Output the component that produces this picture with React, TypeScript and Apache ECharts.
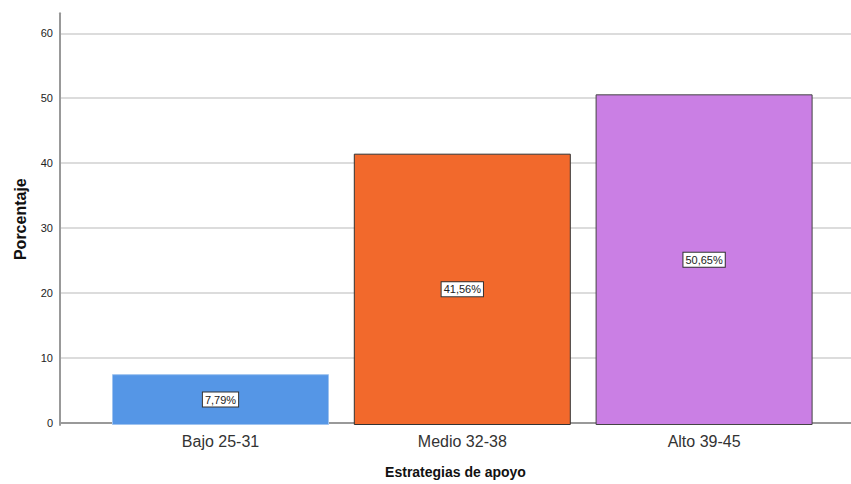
import React, { useEffect, useRef } from "react";
import * as echarts from "echarts";

const categories = ["Bajo 25-31", "Medio 32-38", "Alto 39-45"];
const percentages = [7.79, 41.56, 50.65];
const barColors = ["#5596e6", "#f2692c", "#ca7fe4"];
const barBorders = ["#9fc3ef", "#333333", "#444444"];
const yTicks = [0, 10, 20, 30, 40, 50, 60];

export default function App() {
  const ref = useRef<HTMLDivElement>(null);
  useEffect(() => {
    document.body.style.margin = "0";
    if (!ref.current) return;
    const chart = echarts.init(ref.current, undefined, { renderer: "svg" });
    const font = "'Liberation Sans', Arial, sans-serif";
    const bottom = 59;
    chart.setOption({
      animation: false,
      backgroundColor: "#ffffff",
      textStyle: { fontFamily: font },
      grid: [
        { left: 60, right: 0, top: 33.3, bottom: bottom },
        { left: 99.6, right: 26, top: 33.3, bottom: bottom },
        { left: 60, right: 0, top: 13.3, bottom: bottom },
      ],
      xAxis: [
        {
          gridIndex: 0,
          type: "category",
          data: categories,
          axisLine: { show: true, lineStyle: { color: "#999999", width: 2 } },
          axisTick: { show: false },
          axisLabel: { show: false },
          name: "Estrategias de apoyo",
          nameLocation: "middle",
          nameGap: 42,
          nameTextStyle: { fontSize: 14, fontWeight: "bold", color: "#111111", fontFamily: font },
        },
        {
          gridIndex: 1,
          type: "category",
          data: categories,
          axisLine: { show: false },
          axisTick: { show: false },
          axisLabel: { fontSize: 16, color: "#333333", margin: 8, fontFamily: font },
        },
        {
          gridIndex: 2,
          type: "category",
          data: categories,
          show: false,
        },
      ],
      yAxis: [
        {
          gridIndex: 0,
          type: "value",
          min: yTicks[0],
          max: yTicks[yTicks.length - 1],
          interval: 10,
          axisLine: { show: false },
          axisTick: { show: false },
          axisLabel: { fontSize: 11, color: "#222222", margin: 7, fontFamily: font },
          splitLine: { show: true, lineStyle: { color: "#d0d0d0", width: 1.5 } },
        },
        {
          gridIndex: 1,
          type: "value",
          min: yTicks[0],
          max: yTicks[yTicks.length - 1],
          show: false,
          splitLine: { show: false },
        },
        {
          gridIndex: 2,
          type: "value",
          min: 0,
          max: 63,
          axisLine: { show: true, lineStyle: { color: "#999999", width: 2 } },
          axisTick: { show: false },
          axisLabel: { show: false },
          splitLine: { show: false },
          name: "Porcentaje",
          nameLocation: "middle",
          nameGap: 32,
          nameTextStyle: { fontSize: 16, fontWeight: "bold", color: "#111111", fontFamily: font },
        },
      ],
      series: [
        {
          type: "bar",
          xAxisIndex: 1,
          yAxisIndex: 1,
          barWidth: 217,
          data: percentages.map((v, i) => ({
            value: v,
            itemStyle: { color: barColors[i], borderColor: barBorders[i], borderWidth: 1 },
          })),
          label: {
            show: true,
            position: "inside",
            formatter: (p: any) => p.value.toFixed(2).replace(".", ",") + "%",
            fontSize: 11,
            color: "#222222",
            fontFamily: font,
            backgroundColor: "#ffffff",
            borderColor: "#333333",
            borderWidth: 1,
            padding: [2, 2, 1, 2],
          },
        },
      ],
    });
    return () => chart.dispose();
  }, []);
  return <div ref={ref} style={{ width: 851, height: 484 }} />;
}
